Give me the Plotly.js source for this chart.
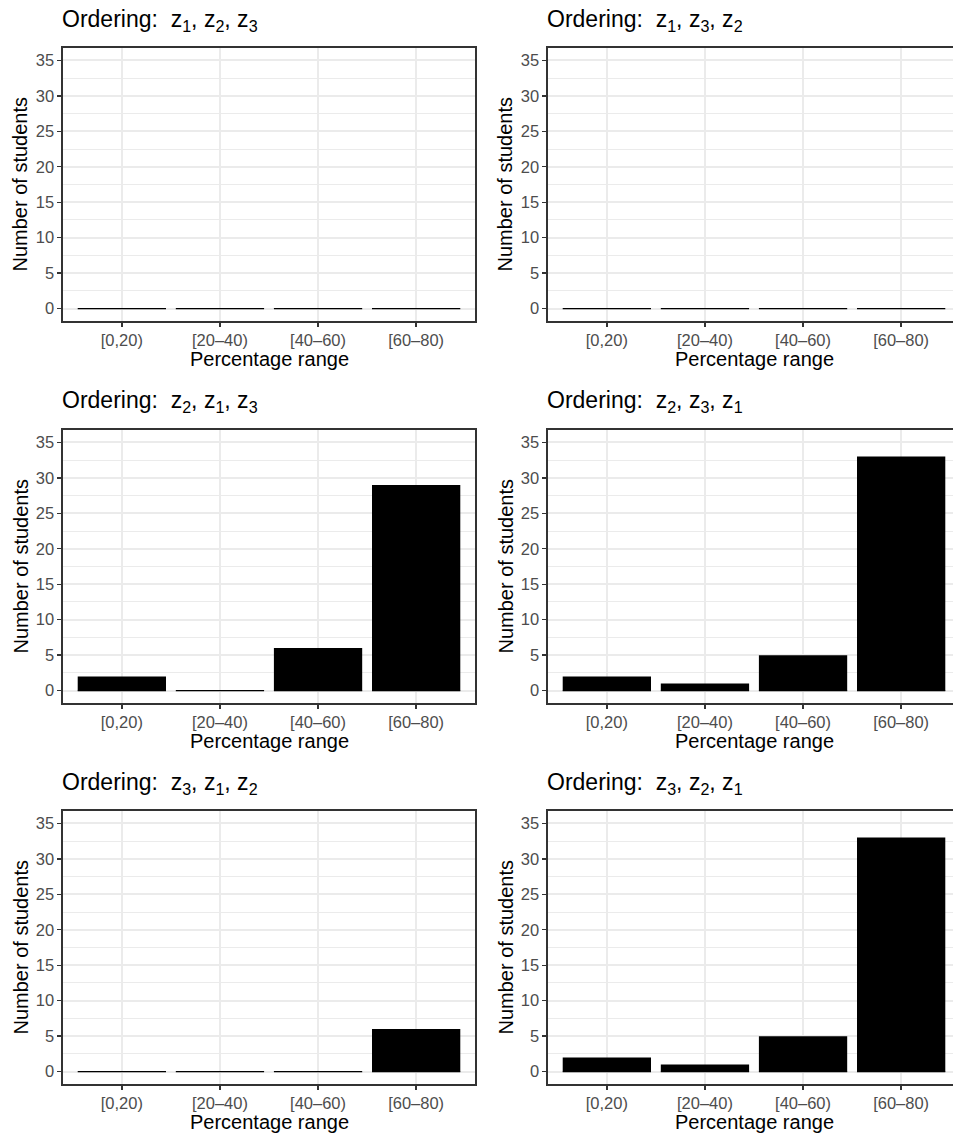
<!DOCTYPE html>
<html>
<head>
<meta charset="utf-8">
<script src="https://cdn.plot.ly/plotly-3.0.1.min.js"></script>
<style>
html, body { margin: 0; padding: 0; overflow: hidden; background: #fff; width: 953px; height: 1134px; }
#chart { width: 975px; height: 1134px; }
</style>
</head>
<body>
<div id="chart"></div>
<script>
// ---- data ----
const categories = ["[0,20)", "[20\u201340)", "[40\u201360)", "[60\u201380)"];
const orderings = [
  ["1", "2", "3"],
  ["1", "3", "2"],
  ["2", "1", "3"],
  ["2", "3", "1"],
  ["3", "1", "2"],
  ["3", "2", "1"]
];
const counts_z1_z2_z3 = [0, 0, 0, 0];
const counts_z1_z3_z2 = [0, 0, 0, 0];
const counts_z2_z1_z3 = [2, 0, 6, 29];
const counts_z2_z3_z1 = [2, 1, 5, 33];
const counts_z3_z1_z2 = [0, 0, 0, 6];
const counts_z3_z2_z1 = [2, 1, 5, 33];
const panelCounts = [counts_z1_z2_z3, counts_z1_z3_z2, counts_z2_z1_z3,
                     counts_z2_z3_z1, counts_z3_z1_z2, counts_z3_z2_z1];
const yTicks = [0, 5, 10, 15, 20, 25, 30, 35];
const xTitle = "Percentage range";
const yTitle = "Number of students";

// ---- layout geometry (pixels) ----
const W = 975, H = 1134;
const colLeft = [63, 548];
const rowTop = [48, 430, 811];
const pW = 412, pH = 273;
const barWidth = 0.9;
const FONT = "Liberation Sans, Arial, Helvetica, sans-serif";

const traces = [];
const layout = {
  width: W, height: H,
  margin: {l: 0, r: 0, t: 0, b: 0},
  paper_bgcolor: "#ffffff",
  plot_bgcolor: "#ffffff",
  showlegend: false,
  font: {family: FONT},
  annotations: []
};

panelCounts.forEach((vals, k) => {
  const row = Math.floor(k / 2), col = k % 2;
  const n = k + 1;
  const xa = n === 1 ? "x" : "x" + n;
  const ya = n === 1 ? "y" : "y" + n;
  const xs = categories.map((c, i) => i);
  traces.push({
    type: "bar", x: xs, y: vals, width: barWidth,
    xaxis: xa, yaxis: ya,
    marker: {color: "#000000", line: {width: 0}},
    hoverinfo: "skip"
  });
  // outline at base (visible for zero-height bars)
  const lx = [], ly = [];
  xs.forEach(i => { lx.push(i - barWidth / 2, i + barWidth / 2, null); ly.push(0, 0, null); });
  traces.push({
    type: "scatter", mode: "lines", x: lx, y: ly,
    xaxis: xa, yaxis: ya,
    line: {color: "#000000", width: 1.2},
    hoverinfo: "skip"
  });

  const x0 = colLeft[col], y0 = rowTop[row];
  const common = {
    showgrid: true, gridcolor: "#EBEBEB", gridwidth: 2,
    showline: true, mirror: true, linecolor: "#333333", linewidth: 1.6,
    ticks: "outside", ticklen: 4, tickwidth: 1.4, tickcolor: "#333333",
    tickfont: {size: 16.5, color: "#4D4D4D", family: FONT},
    zeroline: false, fixedrange: true
  };
  layout[n === 1 ? "xaxis" : "xaxis" + n] = Object.assign({}, common, {
    anchor: ya,
    domain: [x0 / W, (x0 + pW) / W],
    range: [-0.6, 3.6],
    tickmode: "array", tickvals: xs, ticktext: categories
  });
  layout[n === 1 ? "yaxis" : "yaxis" + n] = Object.assign({}, common, {
    anchor: xa,
    domain: [1 - (y0 + pH) / H, 1 - y0 / H],
    range: [-1.75, 36.75],
    tickmode: "array", tickvals: yTicks,
    minor: {dtick: 2.5, tick0: 0, showgrid: true, gridcolor: "#EBEBEB", gridwidth: 1, ticks: ""}
  });

  const o = orderings[k];
  layout.annotations.push({
    xref: "paper", yref: "paper",
    x: (x0 - 3) / W, y: 1 - (y0 - 28) / H,
    xanchor: "left", yanchor: "middle", showarrow: false,
    text: "Ordering:\u00a0 z<sub>" + o[0] + "</sub>, z<sub>" + o[1] + "</sub>, z<sub>" + o[2] + "</sub>",
    font: {size: 23, color: "#000000", family: FONT}
  });
  layout.annotations.push({
    xref: "paper", yref: "paper",
    x: (x0 + pW / 2) / W, y: 1 - (y0 + pH + 38) / H,
    xanchor: "center", yanchor: "middle", showarrow: false,
    text: xTitle,
    font: {size: 20, color: "#000000", family: FONT}
  });
  layout.annotations.push({
    xref: "paper", yref: "paper",
    x: (x0 - 43) / W, y: 1 - (y0 + pH / 2) / H,
    xanchor: "center", yanchor: "middle", showarrow: false, textangle: -90,
    text: yTitle,
    font: {size: 20, color: "#000000", family: FONT}
  });
});

Plotly.newPlot("chart", traces, layout, {displayModeBar: false, staticPlot: true});
</script>
</body>
</html>
